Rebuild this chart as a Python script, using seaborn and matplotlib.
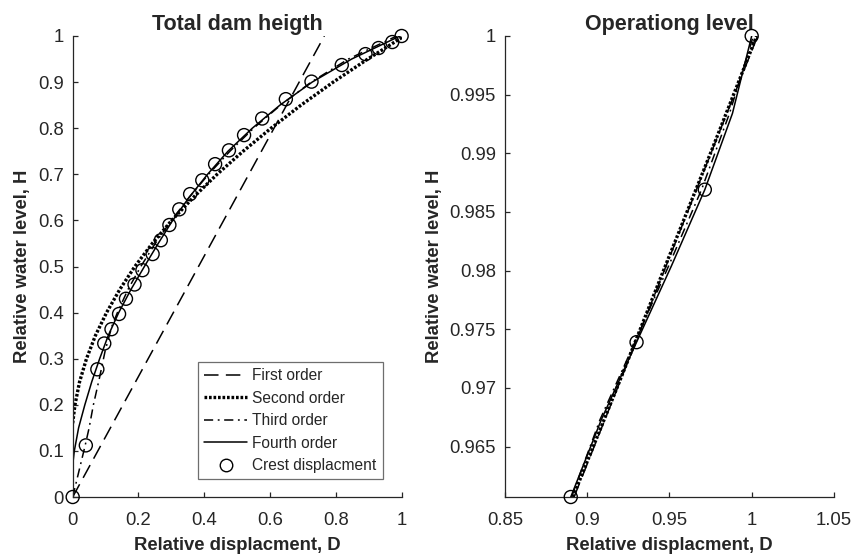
import numpy as np
import pandas as pd
import matplotlib
matplotlib.use("Agg")
import matplotlib.pyplot as plt
from matplotlib.lines import Line2D
from matplotlib.ticker import FuncFormatter
import seaborn as sns

sns.set_style("white")
plt.rcParams['font.family'] = ['Liberation Sans', 'DejaVu Sans']

# ---------------- data ----------------
# Crest displacement measurements (relative displacement D, relative water level H)
crest_D = [0.0, 0.040, 0.075, 0.096, 0.118, 0.141, 0.162, 0.188, 0.212, 0.243,
           0.268, 0.294, 0.324, 0.357, 0.394, 0.433, 0.475, 0.521, 0.576, 0.648,
           0.726, 0.818, 0.890, 0.930, 0.9715, 1.0]
crest_H = [0.0, 0.112, 0.277, 0.333, 0.364, 0.397, 0.430, 0.461, 0.492, 0.527,
           0.557, 0.590, 0.624, 0.657, 0.687, 0.722, 0.752, 0.785, 0.821, 0.863,
           0.901, 0.937, 0.9607, 0.9739, 0.9869, 1.0]

# Total dam height fits (sampled along H)
first_H = [0.0, 1.0]
first_D = [0.0, 0.765]

second_H = [0.16, 0.20, 0.25, 0.30, 0.35, 0.40, 0.45, 0.50, 0.55, 0.60, 0.65,
            0.70, 0.75, 0.80, 0.85, 0.90, 0.95, 1.0]
second_D = [0.0, 0.007, 0.021, 0.042, 0.069, 0.103, 0.143, 0.189, 0.242, 0.301,
            0.367, 0.439, 0.518, 0.603, 0.694, 0.792, 0.897, 1.008]

third_H = [0.0, 0.05, 0.112, 0.15, 0.20, 0.26, 0.318, 0.37, 0.40, 0.45, 0.50,
           0.55, 0.60, 0.65, 0.70, 0.75, 0.80, 0.85, 0.90, 0.95, 1.0]
third_D = [0.0, 0.017, 0.038, 0.050, 0.063, 0.082, 0.099, 0.119, 0.136, 0.168,
           0.207, 0.251, 0.300, 0.354, 0.413, 0.478, 0.550, 0.632, 0.725, 0.838, 0.985]

fourth_H = [0.069, 0.10, 0.15, 0.20, 0.25, 0.30, 0.35, 0.40, 0.45, 0.50, 0.55,
            0.60, 0.65, 0.70, 0.75, 0.80, 0.85, 0.90, 0.95, 1.0]
fourth_D = [0.0, 0.005, 0.018, 0.037, 0.058, 0.082, 0.108, 0.140, 0.177, 0.218,
            0.260, 0.304, 0.354, 0.410, 0.472, 0.546, 0.630, 0.728, 0.848, 0.995]

# Operating level fits (sampled along H)
op_crest_D = [0.890, 0.930, 0.9715, 1.0]
op_crest_H = [0.9607, 0.9739, 0.9869, 1.0]

op_first_H = [0.9607, 1.0]
op_first_D = [0.892, 1.0036]

op_second_H = [0.9607, 0.9705, 0.9804, 0.9902, 1.0]
op_second_D = [0.8913, 0.9195, 0.9475, 0.9755, 1.0030]

op_third_H = [0.9607, 0.9673, 0.9739, 0.9804, 0.9869, 0.9934, 1.0]
op_third_D = [0.8905, 0.9078, 0.9290, 0.9495, 0.9695, 0.9865, 1.0010]

op_fourth_H = [0.9607, 0.9673, 0.9739, 0.9804, 0.9869, 0.9934, 1.0]
op_fourth_D = [0.8900, 0.9086, 0.9300, 0.9512, 0.9715, 0.9883, 1.0]

labels = ["First order", "Second order", "Third order", "Fourth order", "Crest displacment"]

# ---------------- styles ----------------
K = "black"
styles = {
    "First order": dict(linestyle=(0, (9.5, 4.8)), lw=1.1),
    "Second order": dict(linestyle=(0, (0.8, 0.55)), lw=2.4),
    "Third order": dict(linestyle=(0, (6, 3, 1.2, 3)), lw=1.1),
    "Fourth order": dict(linestyle="-", lw=1.1),
}
axcol = "#262626"

fig = plt.figure(figsize=(8.54, 5.59), dpi=100)
ax1 = fig.add_axes([0.0851, 0.1109, 0.3852, 0.8247])
ax2 = fig.add_axes([0.5913, 0.1109, 0.3852, 0.8247])


def draw(ax, curves, cD, cH):
    for name, (D, H) in curves.items():
        df = pd.DataFrame({"D": D, "H": H})
        sns.lineplot(data=df, x="D", y="H", sort=False, estimator=None,
                     color=K, ax=ax, legend=False, **styles[name])
    dfc = pd.DataFrame({"D": cD, "H": cH})
    sns.scatterplot(data=dfc, x="D", y="H", ax=ax, marker="o", s=88,
                    facecolor="none", edgecolor=K, linewidth=1.0,
                    clip_on=False, zorder=5, legend=False)


draw(ax1, {"First order": (first_D, first_H),
           "Second order": (second_D, second_H),
           "Third order": (third_D, third_H),
           "Fourth order": (fourth_D, fourth_H)}, crest_D, crest_H)
draw(ax2, {"First order": (op_first_D, op_first_H),
           "Second order": (op_second_D, op_second_H),
           "Third order": (op_third_D, op_third_H),
           "Fourth order": (op_fourth_D, op_fourth_H)}, op_crest_D, op_crest_H)

gfmt = FuncFormatter(lambda v, p: ("%g" % round(v, 6)))

for ax in (ax1, ax2):
    sns.despine(ax=ax, top=True, right=True)
    for s in ("left", "bottom"):
        ax.spines[s].set_color(axcol)
        ax.spines[s].set_linewidth(0.9)
    ax.tick_params(direction="in", length=3.4, width=0.9, color=axcol,
                   labelcolor=axcol, labelsize=13.3, left=True, bottom=True)
    ax.tick_params(axis="x", pad=10.5)
    ax.tick_params(axis="y", pad=6.5)
    ax.xaxis.set_major_formatter(gfmt)
    ax.yaxis.set_major_formatter(gfmt)
    ax.set_xlabel("Relative displacment, D", fontsize=13.3, fontweight="bold",
                  color=axcol, labelpad=6.3)
    ax.set_ylabel("Relative water level, H", fontsize=13.3, fontweight="bold",
                  color=axcol, labelpad=4.8)

ax1.set_xlim(0, 1)
ax1.set_ylim(0, 1)
ax1.set_xticks(np.arange(0, 1.01, 0.2))
ax1.set_yticks(np.arange(0, 1.01, 0.1))
ax1.set_title("Total dam heigth", fontsize=15.5, fontweight="bold", pad=4)

ax2.set_xlim(0.85, 1.05)
ax2.set_ylim(0.9607, 1.0)
ax2.set_xticks([0.85, 0.9, 0.95, 1.0, 1.05])
ax2.set_yticks([0.965, 0.97, 0.975, 0.98, 0.985, 0.99, 0.995, 1.0])
ax2.set_title("Operationg level", fontsize=15.5, fontweight="bold", pad=4)

handles = [Line2D([], [], color=K, **styles[n]) for n in labels[:4]]
handles.append(Line2D([], [], color=K, linestyle="none", marker="o",
                      markersize=9, markerfacecolor="none", markeredgewidth=1.0))
leg = ax1.legend(handles, labels, loc="lower right", bbox_to_anchor=(0.942, 0.038),
                 borderaxespad=0, fancybox=False, frameon=True, fontsize=11.2,
                 handlelength=2.76, handletextpad=0.3, labelspacing=0.48,
                 borderpad=0.4, framealpha=1)
leg.get_frame().set_edgecolor("#6e6e6e")
leg.get_frame().set_linewidth(0.9)
for t in leg.get_texts():
    t.set_color(axcol)

fig.savefig("out.png", dpi=100)
